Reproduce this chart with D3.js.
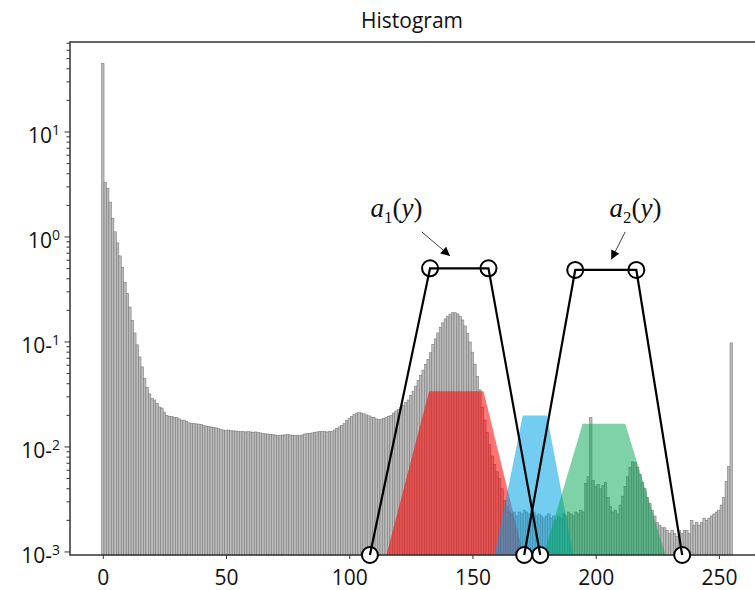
<!DOCTYPE html>
<meta charset="utf-8">
<script src="https://d3js.org/d3.v7.min.js"></script>
<style>
  body { margin: 0; background: #fff; }
  text { font-family: "Open Sans", sans-serif; }
</style>
<div id="my_dataviz"></div>
<script>

// histogram counts, bins 0..255
const counts = [
  45, 3.3, 2.9, 2.15, 1.5, 1.12, 0.88, 0.66, 0.51, 0.37,
  0.29, 0.215, 0.16, 0.122, 0.094, 0.072, 0.058, 0.045, 0.037, 0.032,
  0.029, 0.028, 0.026, 0.024, 0.0235, 0.0215, 0.0200, 0.0195, 0.0195, 0.019,
  0.019, 0.0185, 0.018, 0.018, 0.0175, 0.017, 0.0168, 0.0167, 0.0166, 0.0165,
  0.0163, 0.016, 0.0158, 0.0157, 0.0155, 0.0153, 0.0152, 0.015, 0.0146, 0.0145,
  0.0144, 0.0145, 0.0143, 0.0142, 0.0142, 0.0141, 0.014, 0.014, 0.0139, 0.014,
  0.0139, 0.0138, 0.0139, 0.0137, 0.0136, 0.0134, 0.0133, 0.0133, 0.0132, 0.0131,
  0.013, 0.0129, 0.0129, 0.013, 0.013, 0.0131, 0.013, 0.0129, 0.0129, 0.0128,
  0.0129, 0.013, 0.0133, 0.0134, 0.0135, 0.0136, 0.0138, 0.0139, 0.014, 0.014,
  0.014, 0.0139, 0.014, 0.014, 0.0145, 0.015, 0.0155, 0.016, 0.0167, 0.0178,
  0.0188, 0.0196, 0.0203, 0.021, 0.0212, 0.021, 0.0207, 0.0202, 0.0198, 0.0193,
  0.019, 0.0185, 0.0183, 0.0183, 0.0187, 0.019, 0.0195, 0.02, 0.021, 0.022,
  0.0228, 0.0237, 0.025, 0.0265, 0.028, 0.031, 0.034, 0.038, 0.043, 0.048,
  0.054, 0.061, 0.068, 0.079, 0.095, 0.107, 0.122, 0.138, 0.152, 0.166,
  0.176, 0.184, 0.19, 0.19, 0.185, 0.176, 0.162, 0.142, 0.121, 0.1,
  0.08, 0.061, 0.047, 0.035, 0.024, 0.018, 0.0137, 0.0105, 0.0082, 0.0068,
  0.0058, 0.005, 0.004, 0.0031, 0.0027, 0.0024, 0.0023, 0.0024, 0.0022, 0.0024,
  0.0023, 0.0025, 0.0024, 0.0023, 0.0025, 0.0024, 0.0022, 0.0023, 0.0022, 0.0021,
  0.0022, 0.0023, 0.0021, 0.0022, 0.002, 0.0022, 0.0021, 0.0023, 0.0022, 0.0024,
  0.0023, 0.0022, 0.0024, 0.0023, 0.0025, 0.0024, 0.0045, 0.0052, 0.019, 0.0048,
  0.0042, 0.0044, 0.004, 0.0043, 0.0046, 0.0033, 0.0027, 0.0024, 0.0025, 0.0023,
  0.0028, 0.0034, 0.0042, 0.0052, 0.0064, 0.0072, 0.0071, 0.0064, 0.0055, 0.0046,
  0.004, 0.0033, 0.0029, 0.0025, 0.0022, 0.0019, 0.0018, 0.0017, 0.0017, 0.0016,
  0.0015, 0.0016, 0.0015, 0.0014, 0.0016, 0.0015, 0.0016, 0.0016, 0.0015, 0.002,
  0.0018, 0.0019, 0.0018, 0.0019, 0.0021, 0.002, 0.0021, 0.0022, 0.0023, 0.0024,
  0.0025, 0.0028, 0.0033, 0.0047, 0.0065, 0.098
];

const xTicks = [0, 50, 100, 150, 200, 250];
const yExponents = [1, 0, -1, -2, -3];

// coloured class regions: [x, value] corners, bottom corners sit on the axis floor
const redRegion = [[115.1, "floor"], [132.4, 0.034], [154.5, 0.034], [170.7, "floor"]];
const blueRegion = [[159, "floor"], [170.4, 0.0199], [180.2, 0.0199], [191, "floor"]];
const greenRegion = [[178.9, "floor"], [194.7, 0.0166], [212, 0.0166], [228.3, "floor"]];

// membership functions a1(y), a2(y)
const a1Points = [[108.4, "floor"], [132.8, 0.503], [156.5, 0.503], [177.5, "floor"]];
const a2Points = [[171.0, "floor"], [191.7, 0.485], [216.5, 0.485], [235.1, "floor"]];

// labels and arrows [x, value]
const a1Label = [108.6, 1.56];
const a2Label = [205.6, 1.56];
const a1Arrow = [[129.4, 1.12], [140.9, 0.66]];
const a2Arrow = [[212.0, 1.12], [206.3, 0.61]];

let margin = { top: 42, left: 70 },
    width = 694,
    height = 513;

let svg = d3.select("#my_dataviz")
    .append("svg")
    .attr("width", 755)
    .attr("height", 590);

let g = svg.append("g")
    .attr("transform", "translate(" + margin.left + "," + margin.top + ")");

let x = d3.scaleLinear()
    .domain([-13.3, 268.3])
    .range([0, width]);

let yMin = Math.pow(10, -3.029), yMax = Math.pow(10, 1.857);
let y = d3.scaleLog()
    .domain([yMin, yMax])
    .range([height, 0]);

const yv = v => y(v === "floor" ? yMin : v);

// bars
g.append("g")
    .selectAll("rect")
    .data(counts)
    .enter()
    .append("rect")
    .attr("x", (d, i) => x(i - 0.5))
    .attr("width", x(1) - x(0))
    .attr("y", d => y(d))
    .attr("height", d => height - y(d))
    .style("fill", "#bcbcbc")
    .style("stroke", "#7c7c7c")
    .style("stroke-width", 0.6);

// coloured regions
let area = d3.line().x(d => x(d[0])).y(d => yv(d[1]));
[[redRegion, "#ff0000", 0.55], [blueRegion, "#00a4e4", 0.55], [greenRegion, "#00a550", 0.5]]
    .forEach(r => {
        g.append("path")
            .attr("d", area(r[0]) + "Z")
            .style("fill", r[1])
            .style("fill-opacity", r[2]);
    });

// axes frame
g.append("rect")
    .attr("width", width)
    .attr("height", height)
    .style("fill", "none")
    .style("stroke", "#333")
    .style("stroke-width", 1.5);

// x axis
let xAxis = g.append("g")
    .attr("transform", "translate(0," + height + ")")
    .call(d3.axisBottom(x).tickValues(xTicks).tickSize(4).tickFormat(d3.format("d")));
xAxis.select(".domain").remove();
xAxis.selectAll("line").style("stroke", "#333");
xAxis.selectAll("text")
    .attr("y", 30)
    .attr("dy", 0)
    .style("font-family", "'Open Sans', sans-serif")
    .style("font-size", "21px")
    .style("fill", "#111");

// y axis: minor ticks
let minor = [];
for (let e = -3; e <= 1; e++) {
    for (let m = 2; m <= 9; m++) {
        let v = m * Math.pow(10, e);
        if (v >= yMin && v <= yMax) minor.push(v);
    }
}
g.append("g").selectAll("line")
    .data(minor)
    .enter().append("line")
    .attr("x1", -3.5).attr("x2", 0)
    .attr("y1", d => y(d)).attr("y2", d => y(d))
    .style("stroke", "#333");

let yMajor = g.append("g").selectAll("g")
    .data(yExponents)
    .enter().append("g")
    .attr("transform", d => "translate(0," + y(Math.pow(10, d)) + ")");
yMajor.append("line")
    .attr("x1", -5.5).attr("x2", 0)
    .style("stroke", "#333");
let yLab = yMajor.append("text")
    .attr("x", -10)
    .attr("y", 11)
    .style("text-anchor", "end")
    .style("font-size", "21px")
    .style("fill", "#111");
yLab.append("tspan").text(d => d < 0 ? "10-" : "10");
yLab.append("tspan")
    .attr("dy", -8)
    .style("font-size", "14px")
    .text(d => Math.abs(d));

// membership functions
let mf = d3.line().x(d => x(d[0])).y(d => yv(d[1]));
[a1Points, a2Points].forEach(pts => {
    g.append("g").selectAll("circle")
        .data(pts)
        .enter().append("circle")
        .attr("cx", d => x(d[0]))
        .attr("cy", d => yv(d[1]))
        .attr("r", 8)
        .style("fill", (d, i) => (i === 0 || i === 3) ? "#fff" : "none")
        .style("stroke", "#000")
        .style("stroke-width", 2);
    g.append("path")
        .attr("d", mf(pts))
        .style("fill", "none")
        .style("stroke", "#000")
        .style("stroke-width", 2.2);
});

// arrows
svg.append("defs").append("marker")
    .attr("id", "head")
    .attr("viewBox", "0 0 10 10")
    .attr("refX", 10).attr("refY", 5)
    .attr("markerWidth", 10).attr("markerHeight", 9)
    .attr("markerUnits", "userSpaceOnUse")
    .attr("orient", "auto")
    .append("path")
    .attr("d", "M0,0L10,5L0,10Z")
    .style("fill", "#000");

[a1Arrow, a2Arrow].forEach(a => {
    g.append("line")
        .attr("x1", x(a[0][0])).attr("y1", y(a[0][1]))
        .attr("x2", x(a[1][0])).attr("y2", y(a[1][1]))
        .style("stroke", "#444")
        .style("stroke-width", 1)
        .attr("marker-end", "url(#head)");
});

// labels a1(y), a2(y)
[[a1Label, "1"], [a2Label, "2"]].forEach(l => {
    let t = g.append("text")
        .attr("x", x(l[0][0]))
        .attr("y", y(l[0][1]))
        .style("font-family", "'Liberation Serif', 'Times New Roman', serif")
        .style("font-size", "27px")
        .style("fill", "#111");
    t.append("tspan").style("font-style", "italic").text("a");
    t.append("tspan").attr("dy", 6).style("font-size", "17px").text(l[1]);
    t.append("tspan").attr("dy", -6).text("(");
    t.append("tspan").style("font-style", "italic").text("y");
    t.append("tspan").text(")");
});

// title
svg.append("text")
    .attr("x", 412)
    .attr("y", 28)
    .style("text-anchor", "middle")
    .style("font-size", "21px")
    .style("fill", "#111")
    .text("Histogram");

</script>
